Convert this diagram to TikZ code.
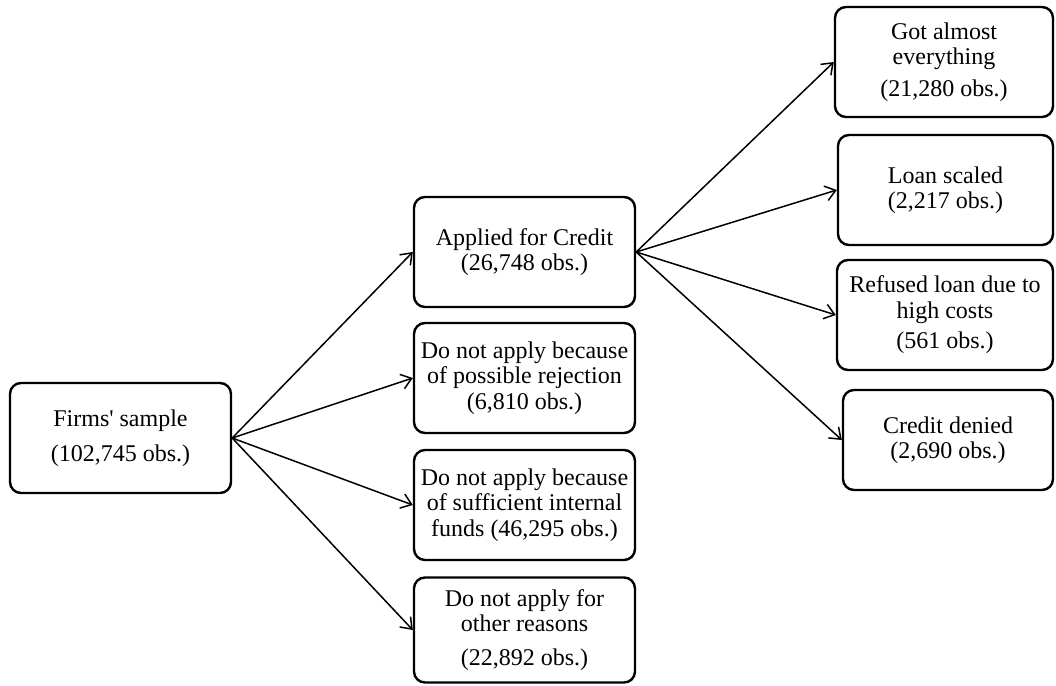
\documentclass[tikz,border=0pt]{standalone}
\usepackage{fontspec}
\setmainfont{Liberation Serif}
\usetikzlibrary{arrows.meta}
\tikzset{
  box/.style={draw, line width=2.4pt, rounded corners=11pt, inner sep=0pt,
    align=center, font=\fontsize{24}{25.5}\selectfont,
    minimum width=221pt, minimum height=110pt},
  link/.style={line width=1.5pt, -{Straight Barb[length=10pt,width=15pt,line width=1.5pt]}}
}
\begin{document}
\begin{tikzpicture}[x=1pt,y=-1pt]
\useasboundingbox (0,0) rectangle (1056,685);
\node[box] (firms) at (120.5,438) {Firms\textquotesingle{} sample\\[10pt](102,745 obs.)};
\node[box] (applied) at (524.5,252) {Applied for Credit\\(26,748 obs.)};
\node[box] (reject) at (524.5,378) {Do not apply because\\of possible rejection\\(6,810 obs.)};
\node[box] (funds) at (524.5,505) {Do not apply because\\of sufficient internal\\funds (46,295 obs.)};
\node[box, minimum height=105pt] (other) at (524.5,630) {Do not apply for\\other reasons\\[8pt](22,892 obs.)};
\node[box, minimum width=218pt] (got) at (944,62) {Got almost\\everything\\[6pt](21,280 obs.)};
\node[box, minimum width=215pt] (scaled) at (945.5,190) {Loan scaled\\(2,217 obs.)};
\node[box, minimum width=216pt] (refused) at (945,315) {Refused loan due to\\high costs\\[5pt](561 obs.)};
\node[box, minimum width=210pt, minimum height=100pt] (denied) at (948,440) {Credit denied\\(2,690 obs.)};
\foreach \t in {applied,reject,funds,other}
  \draw[link] (firms.east) -- (\t.west);
\foreach \t in {got,scaled,refused,denied}
  \draw[link] (applied.east) -- (\t.west);
\end{tikzpicture}
\end{document}
